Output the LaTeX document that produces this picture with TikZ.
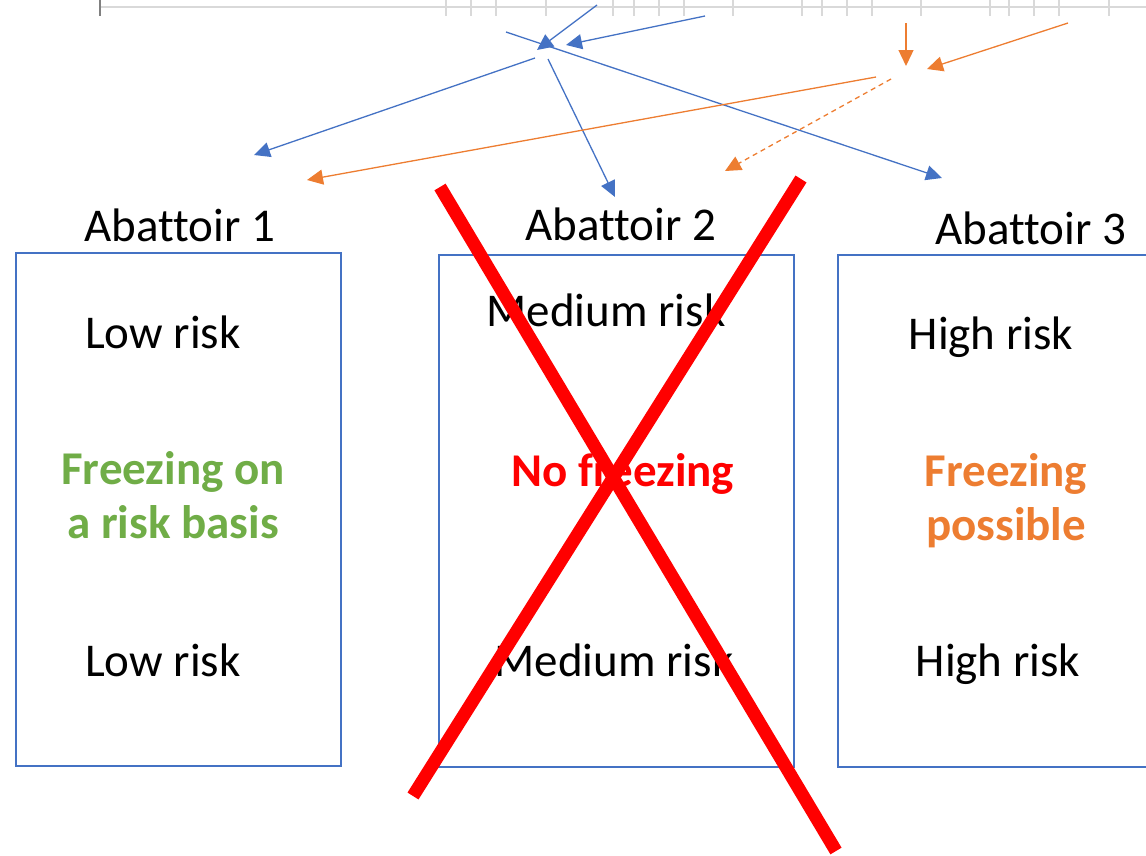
\documentclass[tikz,border=0pt]{standalone}
\usepackage{fontspec}
\setmainfont{Carlito}[Ligatures=NoCommon]
\usepackage{xcolor}
\usepackage{tikz}
\usetikzlibrary{arrows.meta,positioning}
\definecolor{RouteBlue}{RGB}{68,114,196}
\definecolor{RouteOrange}{RGB}{237,125,49}
\definecolor{SafeGreen}{RGB}{112,173,71}
\definecolor{StopRed}{RGB}{255,0,0}
\definecolor{RulerGray}{RGB}{217,217,217}
\tikzset{
    plantbox/.style={draw=RouteBlue, line width=2pt, minimum width=325pt, minimum height=513pt},
    plantlabel/.style={anchor=base, font=\fontsize{47}{54}\selectfont},
    risklabel/.style={anchor=base, font=\fontsize{47}{54}\selectfont},
    verdict/.style={anchor=base, align=center, font=\fontsize{47}{54}\selectfont\bfseries},
    bluearr/.style={-{Triangle[length=16pt,width=15pt]}, RouteBlue, line width=1.3pt},
    orangearr/.style={-{Triangle[length=16pt,width=15pt]}, RouteOrange, line width=1.3pt},
    orangedash/.style={orangearr, dash pattern=on 5pt off 4pt},
    crossline/.style={StopRed, line width=13pt},
    rulertick/.style={RulerGray, line width=1.5pt},
}

\begin{document}
\begin{tikzpicture}[x=1pt, y=-1pt]
\useasboundingbox (0,0) rectangle (1146,855);

% ruler strip along the top
\draw[rulertick] (100,7) -- (1146,7);
\draw[gray, line width=1.5pt] (100,0) -- (100,16);
\foreach \tx in {446,471,496,546,613,634,659,684,733,802,822,847,872,921,990,1009,1034,1059,1109}
    \draw[rulertick] (\tx,0) -- (\tx,16);

% the three abattoirs
\node[plantbox] (plant1) at (178.5,509.5) {};
\node[plantbox, minimum width=355pt, minimum height=512pt] (plant2) at (616.5,511) {};
\coordinate (plant3ne) at (1146,255);
\coordinate (plant3nw) at (838,255);
\coordinate (plant3sw) at (838,767);
\coordinate (plant3se) at (1146,767);
\draw[RouteBlue, line width=2pt] (plant3ne) -- (plant3nw) -- (plant3sw) -- (plant3se);

\node[plantlabel] (name1) at (180,241) {Abattoir 1};
\node[plantlabel] (name2) at (621,240) {Abattoir 2};
\node[plantlabel] (name3) at (1031,244) {Abattoir 3};

\node[risklabel] (top1) at (163,348) {Low risk};
\node[verdict, text=SafeGreen] (act1) at (173,538) {Freezing on\\a risk basis};
\node[risklabel] (bot1) at (163,676) {Low risk};

\node[risklabel] (top2) at (606,326) {Medium risk};
\node[verdict, text=StopRed] (act2) at (623,486) {No freezing};
\node[risklabel] (bot2) at (614,676) {Medium risk};

\node[risklabel] (top3) at (991,349) {High risk};
\node[verdict, text=RouteOrange] (act3) at (1006,540) {Freezing\\possible};
\node[risklabel] (bot3) at (998,676) {High risk};

% blue routes
\coordinate (blueIn1) at (597,5);
\coordinate (blueHub1) at (537,50);
\coordinate (blueIn2) at (705,16);
\coordinate (blueHub2) at (566,45);
\coordinate (blueCross) at (506,32);
\coordinate (blueOutL) at (535,58);
\coordinate (blueOutM) at (548,59);
\coordinate (toPlant1) at (254,155);
\coordinate (toPlant2) at (615,197);
\coordinate (toPlant3) at (942,178);
\draw[bluearr] (blueIn1) -- (blueHub1);
\draw[bluearr] (blueIn2) -- (blueHub2);
\draw[bluearr] (blueCross) -- (toPlant3);
\draw[bluearr] (blueOutL) -- (toPlant1);
\draw[bluearr] (blueOutM) -- (toPlant2);

% orange routes
\coordinate (orangeIn1) at (906,23);
\coordinate (orangeHub1) at (906,66);
\coordinate (orangeIn2) at (1068,23);
\coordinate (orangeHub2) at (927,69);
\coordinate (orangeOutL) at (876,77);
\coordinate (orangeOutM) at (891,79);
\coordinate (orPlant1) at (307,180);
\coordinate (orPlant2) at (725,171);
\draw[orangearr] (orangeIn1) -- (orangeHub1);
\draw[orangearr] (orangeIn2) -- (orangeHub2);
\draw[orangearr] (orangeOutL) -- (orPlant1);
\draw[orangedash] (orangeOutM) -- (orPlant2);

% abattoir 2 struck out
\coordinate (crossA) at (440,187);
\coordinate (crossB) at (836,851);
\coordinate (crossC) at (801,179);
\coordinate (crossD) at (413,796);
\draw[crossline] (crossA) -- (crossB);
\draw[crossline] (crossC) -- (crossD);
\end{tikzpicture}
\end{document}
